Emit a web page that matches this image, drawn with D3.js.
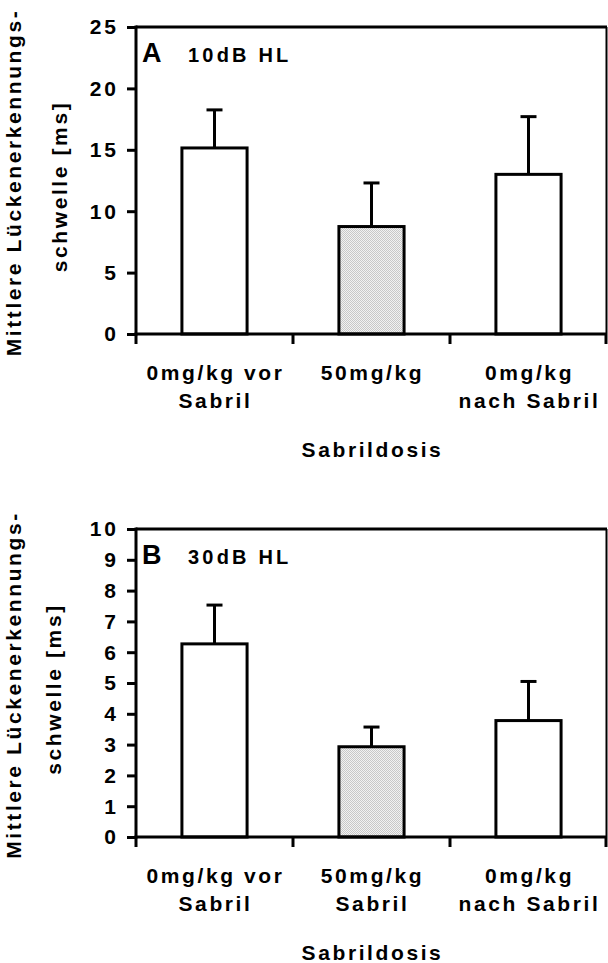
<!DOCTYPE html>
<html>
<head>
<meta charset="utf-8">
<script src="https://cdn.jsdelivr.net/npm/d3@7"></script>
<style>
    body { margin: 0; background: #fff; }
    text { font-family: "Liberation Sans", Arial, sans-serif; font-weight: bold; fill: #000; }
</style>
</head>
<body>
<div id="chart-div"></div>
<script>
// data
var doses = ['vor', '50', 'nach'];
var labelsA = [['0mg/kg vor', 'Sabril'], ['50mg/kg', ''], ['0mg/kg', 'nach Sabril']];
var labelsB = [['0mg/kg vor', 'Sabril'], ['50mg/kg', 'Sabril'], ['0mg/kg', 'nach Sabril']];
var meanA = [15.15, 8.75, 13.0];
var errA = [3.1, 3.55, 4.7];
var meanB = [6.27, 2.93, 3.78];
var errB = [1.26, 0.64, 1.27];
var ticksA = [0, 5, 10, 15, 20, 25];
var ticksB = [0, 1, 2, 3, 4, 5, 6, 7, 8, 9, 10];
var fills = ['#fff', 'url(#stipple)', '#fff'];

window.Vis = window.Vis || {};

Vis.init = function() {
    Vis.width = 608;
    Vis.height = 963;
    Vis.left = 136;
    Vis.right = 607;
    Vis.fontSize = 21;
    Vis.spacing = '2.6px';

    Vis.svg = d3.select('#chart-div').append('svg')
                .attr('width', Vis.width)
                .attr('height', Vis.height);

    // fine grey dot fill of the middle bar
    var pat = Vis.svg.append('defs').append('pattern')
                 .attr('id', 'stipple')
                 .attr('width', 2).attr('height', 2)
                 .attr('patternUnits', 'userSpaceOnUse');
    pat.append('rect').attr('width', 2).attr('height', 2).attr('fill', '#f2f2f2');
    pat.append('rect').attr('width', 1).attr('height', 1).attr('fill', '#c8c8c8');
    pat.append('rect').attr('x', 1).attr('y', 1).attr('width', 1).attr('height', 1).attr('fill', '#c8c8c8');

    Vis.panel({top: 27, bottom: 334, max: 25, ticks: ticksA, mean: meanA, err: errA,
               labels: labelsA, letter: 'A', sub: '10dB HL', title2x: 67});
    Vis.panel({top: 529, bottom: 837, max: 10, ticks: ticksB, mean: meanB, err: errB,
               labels: labelsB, letter: 'B', sub: '30dB HL', title2x: 61});
};

Vis.panel = function(p) {
    var g = Vis.svg.append('g');

    var x = d3.scaleBand()
              .domain(doses)
              .range([Vis.left, Vis.right])
              .paddingInner(0.585)
              .paddingOuter(0.2925);
    var y = d3.scaleLinear()
              .domain([0, p.max])
              .range([p.bottom, p.top]);
    var step = x.step();

    // bars
    g.selectAll('rect.bar').data(doses).enter().append('rect')
        .attr('x', function(d) { return x(d); })
        .attr('y', function(d, i) { return y(p.mean[i]); })
        .attr('width', x.bandwidth())
        .attr('height', function(d, i) { return y(0) - y(p.mean[i]); })
        .attr('fill', function(d, i) { return fills[i]; })
        .attr('stroke', '#000')
        .attr('stroke-width', 3);

    // upper error bars
    var cx = function(d) { return x(d) + x.bandwidth()/2; };
    g.selectAll('line.err').data(doses).enter().append('line')
        .attr('x1', cx).attr('x2', cx)
        .attr('y1', function(d, i) { return y(p.mean[i]); })
        .attr('y2', function(d, i) { return y(p.mean[i] + p.err[i]); })
        .attr('stroke', '#000').attr('stroke-width', 3);
    g.selectAll('line.cap').data(doses).enter().append('line')
        .attr('x1', function(d) { return cx(d) - 8; })
        .attr('x2', function(d) { return cx(d) + 8; })
        .attr('y1', function(d, i) { return y(p.mean[i] + p.err[i]); })
        .attr('y2', function(d, i) { return y(p.mean[i] + p.err[i]); })
        .attr('stroke', '#000').attr('stroke-width', 3);

    // frame: top line and thinner right line
    g.append('line').attr('x1', Vis.left).attr('x2', Vis.right)
        .attr('y1', y(p.max)).attr('y2', y(p.max))
        .attr('stroke', '#000').attr('stroke-width', 3);
    g.append('line').attr('x1', Vis.right - 0.5).attr('x2', Vis.right - 0.5)
        .attr('y1', y(p.max)).attr('y2', y(0))
        .attr('stroke', '#000').attr('stroke-width', 2);

    // y axis
    var yAxis = d3.axisLeft(y).tickValues(p.ticks).tickSize(9).tickSizeOuter(0).tickPadding(8);
    var ya = g.append('g').attr('transform', 'translate(' + Vis.left + ',0)').call(yAxis);
    ya.select('.domain').attr('stroke-width', 3).attr('d', 'M0,' + (y(p.max) - 1.5) + 'V' + (y(0) + 1.5));
    ya.selectAll('.tick line').attr('stroke-width', 3);
    ya.selectAll('.tick text')
        .attr('font-size', Vis.fontSize)
        .attr('letter-spacing', '3px')
        .attr('dy', '0.33em')
        .style('font-family', '"Liberation Sans", Arial, sans-serif')
        .style('font-weight', 'bold');

    // x axis with ticks at the category boundaries
    g.append('line').attr('x1', Vis.left - 1.5).attr('x2', Vis.right)
        .attr('y1', y(0)).attr('y2', y(0))
        .attr('stroke', '#000').attr('stroke-width', 3);
    g.selectAll('line.xt').data(d3.range(4)).enter().append('line')
        .attr('x1', function(d) { return Vis.left + d*step - (d === 3 ? 1 : 0); })
        .attr('x2', function(d) { return Vis.left + d*step - (d === 3 ? 1 : 0); })
        .attr('y1', y(0)).attr('y2', y(0) + 10)
        .attr('stroke', '#000').attr('stroke-width', 3);

    // category labels
    doses.forEach(function(d, i) {
        [0, 1].forEach(function(k) {
            g.append('text')
                .attr('x', cx(d) + 1)
                .attr('y', y(0) + 46 + 28*k)
                .attr('text-anchor', 'middle')
                .attr('font-size', Vis.fontSize)
                .attr('letter-spacing', Vis.spacing)
                .text(p.labels[i][k]);
        });
    });

    g.append('text')
        .attr('x', (Vis.left + Vis.right)/2 + 1)
        .attr('y', y(0) + 123)
        .attr('text-anchor', 'middle')
        .attr('font-size', Vis.fontSize)
        .attr('letter-spacing', Vis.spacing)
        .text('Sabrildosis');

    // y axis title, two rotated lines
    var mid = (y(0) + y(p.max))/2;
    g.append('text')
        .attr('transform', 'translate(21,' + (mid + 2) + ') rotate(-90)')
        .attr('text-anchor', 'middle')
        .attr('font-size', Vis.fontSize)
        .attr('letter-spacing', Vis.spacing)
        .text('Mittlere Lückenerkennungs-');
    g.append('text')
        .attr('transform', 'translate(' + p.title2x + ',' + (mid + 6) + ') rotate(-90)')
        .attr('text-anchor', 'middle')
        .attr('font-size', Vis.fontSize)
        .attr('letter-spacing', Vis.spacing)
        .text('schwelle [ms]');

    // panel letter and level
    g.append('text')
        .attr('x', 142).attr('y', y(p.max) + 35)
        .attr('font-size', 27)
        .text(p.letter);
    g.append('text')
        .attr('x', 188).attr('y', y(p.max) + 35)
        .attr('font-size', 20)
        .attr('letter-spacing', '3.2px')
        .text(p.sub);
};

document.addEventListener('DOMContentLoaded', Vis.init);
</script>
</body>
</html>
